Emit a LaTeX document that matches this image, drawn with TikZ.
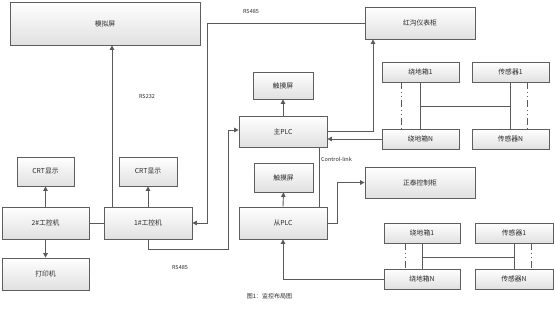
\documentclass[tikz,border=0pt]{standalone}
\usepackage{fontspec}
\setmainfont{Noto Sans CJK SC}
\usetikzlibrary{arrows.meta,shadows,calc}
\definecolor{linec}{HTML}{5A5A5A}
\definecolor{boxline}{HTML}{5E5E5E}
\definecolor{txt}{HTML}{2A2A2A}
\tikzset{
  box/.style={draw=boxline, line width=0.8pt, top color=white, bottom color=black!12,
    drop shadow={shadow xshift=1.2pt, shadow yshift=-1.2pt, opacity=0.35, fill=black!40},
    inner sep=0pt, font=\fontsize{6.8}{8}\selectfont, text=txt},
  conn/.style={draw=linec, line width=0.9pt},
  arr/.style={conn, -{Triangle[length=4.5pt,width=4.5pt]}},
  dd/.style={draw=linec, line width=0.6pt, dash pattern=on 7pt off 3pt on 0.8pt off 3pt on 0.8pt off 3pt},
  lbl/.style={font=\fontsize{5.5}{6}\selectfont, text=txt, inner sep=0pt}
}
\begin{document}
\begin{tikzpicture}[x=1pt,y=-1pt]
\useasboundingbox (0,0) rectangle (555,311);
% boxes
\node[box, minimum width=190pt, minimum height=43pt] (sim) at (105,23.5) {模拟屏};
\node[box, minimum width=110pt, minimum height=32pt] (hg) at (420,23) {红沟仪表柜};
\node[box, minimum width=60pt, minimum height=27pt] (tch1) at (283,85.5) {触摸屏};
\node[box, minimum width=88pt, minimum height=31pt] (mplc) at (283,131.5) {主PLC};
\node[box, minimum width=77pt, minimum height=20pt] (rd1a) at (420.5,72) {绕地箱1};
\node[box, minimum width=77pt, minimum height=20pt] (cg1a) at (510.5,72) {传感器1};
\node[box, minimum width=77pt, minimum height=20pt] (rdNa) at (420.5,139) {绕地箱N};
\node[box, minimum width=77pt, minimum height=20pt] (cgNa) at (510.5,139) {传感器N};
\node[box, minimum width=58pt, minimum height=29pt] (crt2) at (148,171.5) {CRT显示};
\node[box, minimum width=57pt, minimum height=29pt] (crt1) at (45.5,171.5) {CRT显示};
\node[box, minimum width=87pt, minimum height=32pt] (pc2) at (45.5,223) {2\#工控机};
\node[box, minimum width=88pt, minimum height=32pt] (pc1) at (148,223) {1\#工控机};
\node[box, minimum width=87pt, minimum height=32pt] (prn) at (45.5,274) {打印机};
\node[box, minimum width=59pt, minimum height=29pt] (tch2) at (283.5,177.5) {触摸屏};
\node[box, minimum width=88pt, minimum height=32pt] (splc) at (283,223) {从PLC};
\node[box, minimum width=110pt, minimum height=31pt] (zt) at (420,182.5) {正泰控制柜};
\node[box, minimum width=76pt, minimum height=20pt] (rd1b) at (422,233) {绕地箱1};
\node[box, minimum width=78pt, minimum height=20pt] (cg1b) at (514,233) {传感器1};
\node[box, minimum width=76pt, minimum height=20pt] (rdNb) at (422,279) {绕地箱N};
\node[box, minimum width=78pt, minimum height=20pt] (cgNb) at (514,279) {传感器N};
% labels
\node[lbl] (l485a) at (251,11) {RS485};
\node[lbl] (l232) at (147,96) {RS232};
\node[lbl] (l485b) at (180,267) {RS485};
\node[lbl, anchor=west] (lcl) at (321,159) {Control-link};
\node[lbl, font=\fontsize{6}{7}\selectfont] (cap) at (269.5,296) {图1：监控布局图};
% connectors left
\draw[arr] ([xshift=-36pt]pc1.north) -- ([xshift=-36pt]pc1.north |- sim.south);
\draw[arr] (pc1.north) -- (crt2.south);
\draw[arr] (pc2.north) -- (pc2.north |- crt1.south);
\draw[arr] (pc2.south) -- (pc2.south |- prn.north);
\draw[conn] (pc2.east) -- (pc1.west);
\draw[arr] (hg.west) -| ([xshift=15pt]pc1.east) -- (pc1.east);
\draw[arr] (pc1.south) -- ++(0,10) -| ([xshift=-10pt,yshift=1.5pt]mplc.west) -- ([yshift=1.5pt]mplc.west);
% main PLC
\draw[arr] ([yshift=0.5pt]mplc.east) -| ([xshift=-47pt]hg.south);
\draw[arr] (rdNa.west) -- (rdNa.west -| mplc.east);
\draw[arr] (mplc.north) -- (tch1.south);
\draw[conn] ([xshift=36pt]mplc.south) -- ([xshift=36pt]splc.north);
% upper group
\draw[conn] (rd1a.south) -- (rdNa.north);
\draw[conn] (cg1a.south) -- (cgNa.north);
\draw[dd] ([xshift=-19.5pt]rd1a.south) -- ([xshift=-19.5pt]rdNa.north);
\draw[dd] ([xshift=16.5pt]cg1a.south) -- ([xshift=16.5pt]cgNa.north);
\draw[conn] ($(rd1a.south)+(0,24)$) -- ($(cg1a.south)+(0,24)$);
% slave PLC
\draw[arr] (splc.north) -- (tch2.south);
\draw[arr] (splc.east) -- ++(10,0) |- (zt.west);
\draw[arr] (rdNb.west) -| (splc.south);
% lower group
\draw[conn] (rd1b.south) -- (rdNb.north);
\draw[conn] (cg1b.south) -- (cgNb.north);
\draw[dd] ([xshift=-17pt]rd1b.south) -- ([xshift=-17pt]rdNb.north);
\draw[dd] ([xshift=17pt]cg1b.south) -- ([xshift=17pt]cgNb.north);
\draw[conn] ($(rd1b.south)+(0,14)$) -- ($(cg1b.south)+(0,14)$);
\end{tikzpicture}
\end{document}
